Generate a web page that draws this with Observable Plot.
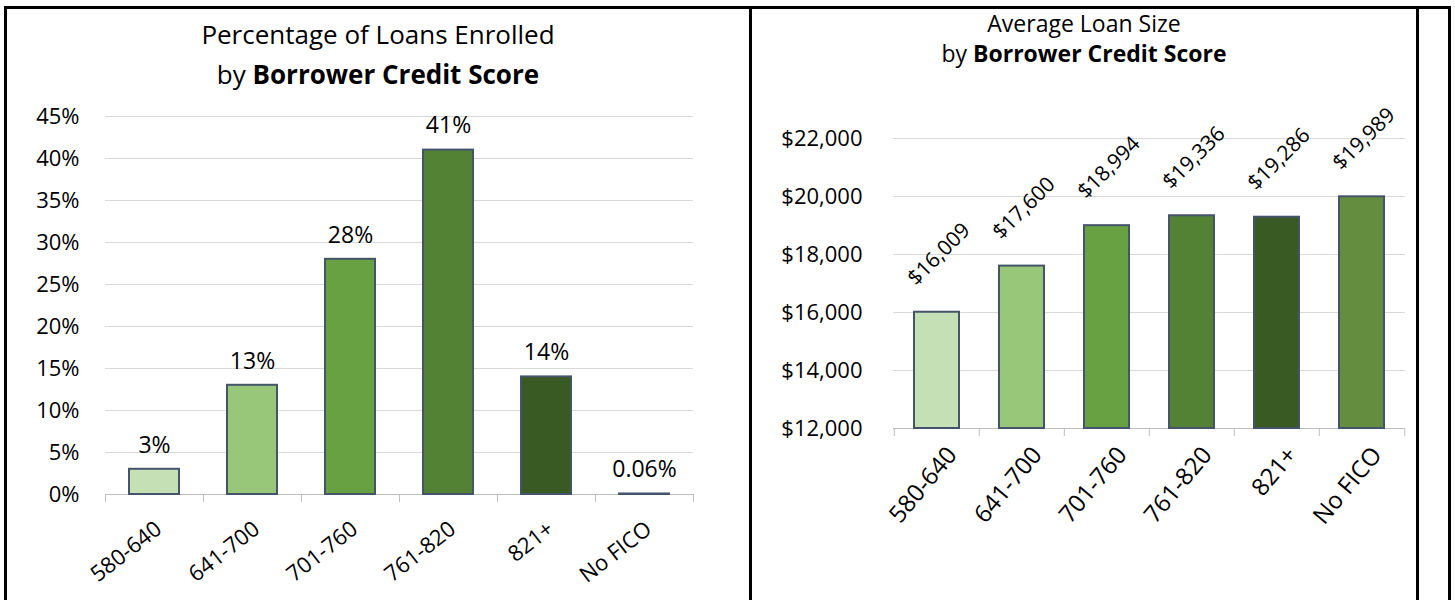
<!DOCTYPE html>
<html><head><meta charset="utf-8">
<script src="https://cdn.jsdelivr.net/npm/d3@7"></script>
<script src="https://cdn.jsdelivr.net/npm/@observablehq/plot@0.6"></script>
<style>
body{margin:0;background:#fff;font-family:"Open Sans",sans-serif;}
#wrap{position:relative;width:1455px;height:600px;overflow:hidden;background:#fff;}
.line{position:absolute;background:#000;}
.title{position:absolute;text-align:center;color:#000;white-space:nowrap;}
.title b{font-weight:700;}
.chart{position:absolute;}
</style></head><body>
<div id="wrap">
  <div class="line" style="left:4px;top:6px;width:1447px;height:3px"></div>
  <div class="line" style="left:4px;top:6px;width:3px;height:600px"></div>
  <div class="line" style="left:749px;top:6px;width:3px;height:600px"></div>
  <div class="line" style="left:1416px;top:6px;width:3px;height:600px"></div>
  <div class="line" style="left:1448px;top:6px;width:3px;height:600px"></div>
  <div class="title" style="left:7px;width:742px;top:14px;font-size:26px;line-height:40px">Percentage of Loans Enrolled<br>by <b>Borrower Credit Score</b></div>
  <div class="title" style="left:752px;width:664px;top:8px;font-size:23px;line-height:30px">Average Loan Size<br>by <b>Borrower Credit Score</b></div>
  <div class="chart" id="c1" style="left:0px;top:100px"></div>
  <div class="chart" id="c2" style="left:750px;top:100px"></div>
</div>
<script>
const categories = ["580-640", "641-700", "701-760", "761-820", "821+", "No FICO"];
const pctEnrolled = [3, 13, 28, 41, 14, 0.06];
const pctLabels = ["3%", "13%", "28%", "41%", "14%", "0.06%"];
const avgLoan = [16009, 17600, 18994, 19336, 19286, 19989];
const barColors = ["#C5E0B4", "#98C77A", "#67A142", "#548235", "#3A5A24", "#658D40"];
const pctTicks = [0, 5, 10, 15, 20, 25, 30, 35, 40, 45];
const loanTicks = [12000, 14000, 16000, 18000, 20000, 22000];

const barStroke = "#44546A";
const gridColor = "#D9D9D9";
const axisColor = "#BFBFBF";

const left = categories.map((c, i) => ({cat: c, value: pctEnrolled[i], label: pctLabels[i], color: barColors[i]}));
const right = categories.map((c, i) => ({cat: c, value: avgLoan[i], label: d3.format("$,")(avgLoan[i]), color: barColors[i]}));

function boundaryTicks(width, mL, mR, base) {
  const step = (width - mL - mR) / categories.length;
  return [
    Plot.ruleX(categories, {x: d => d, y1: () => base, y2: () => base, insetBottom: -8, dx: -step / 2, stroke: axisColor, strokeWidth: 1}),
    Plot.ruleX([categories[categories.length - 1]], {x: d => d, y1: () => base, y2: () => base, insetBottom: -8, dx: step / 2, stroke: axisColor, strokeWidth: 1})
  ];
}

// Left chart
{
  const W = 745, H = 500, mL = 105, mR = 52;
  const chart = Plot.plot({
    width: W, height: H,
    marginLeft: mL, marginRight: mR, marginTop: 16, marginBottom: 106,
    style: {fontFamily: "Open Sans, sans-serif", fontSize: "22px", color: "#000", background: "transparent", overflow: "visible"},
    x: {type: "band", domain: categories, paddingInner: 0.49, paddingOuter: 0.245, axis: null},
    y: {domain: [0, 45], axis: null},
    marks: [
      Plot.ruleY(pctTicks.filter(t => t > 0), {stroke: gridColor, strokeWidth: 1}),
      Plot.ruleY([0], {stroke: axisColor, strokeWidth: 1}),
      ...boundaryTicks(W, mL, mR, 0),
      Plot.axisY({ticks: pctTicks, tickFormat: d => d + "%", tickSize: 0, tickPadding: 26, fontSize: 22, fill: "#000", label: null}),
      Plot.barY(left, {x: "cat", y: "value", fill: "color", stroke: barStroke, strokeWidth: 2}),
      Plot.text(left, {x: "cat", y: "value", text: "label", dy: -24, fontSize: 23, fill: "#000"}),
      Plot.text(left, {x: "cat", y: () => 0, text: "cat", rotate: -38, textAnchor: "end", lineAnchor: "top", dx: -1, dy: 25, fontSize: 22, fill: "#000"})
    ]
  });
  document.getElementById("c1").append(chart);
}

// Right chart
{
  const W = 669, H = 500, mL = 143, mR = 14;
  const chart = Plot.plot({
    width: W, height: H,
    marginLeft: mL, marginRight: mR, marginTop: 38, marginBottom: 172,
    style: {fontFamily: "Open Sans, sans-serif", fontSize: "22px", color: "#000", background: "transparent", overflow: "visible"},
    x: {type: "band", domain: categories, paddingInner: 0.47, paddingOuter: 0.235, axis: null},
    y: {domain: [loanTicks[0], loanTicks[loanTicks.length - 1]], axis: null},
    marks: [
      Plot.ruleY(loanTicks.filter(t => t > loanTicks[0]), {stroke: gridColor, strokeWidth: 1}),
      Plot.ruleY([loanTicks[0]], {stroke: axisColor, strokeWidth: 1}),
      ...boundaryTicks(W, mL, mR, loanTicks[0]),
      Plot.axisY({ticks: loanTicks, tickFormat: d3.format("$,"), tickSize: 0, tickPadding: 31, fontSize: 22, fill: "#000", label: null}),
      Plot.barY(right, {x: "cat", y1: () => loanTicks[0], y2: "value", fill: "color", stroke: barStroke, strokeWidth: 2}),
      Plot.text(right, {x: "cat", y: "value", text: "label", rotate: -45, dx: 2, dy: -58, fontSize: 21, fill: "#000"}),
      Plot.text(right, {x: "cat", y: () => loanTicks[0], text: "cat", rotate: -50, textAnchor: "end", lineAnchor: "top", dx: 8, dy: 16, fontSize: 24, fill: "#000"})
    ]
  });
  document.getElementById("c2").append(chart);
}
</script>
</body></html>
